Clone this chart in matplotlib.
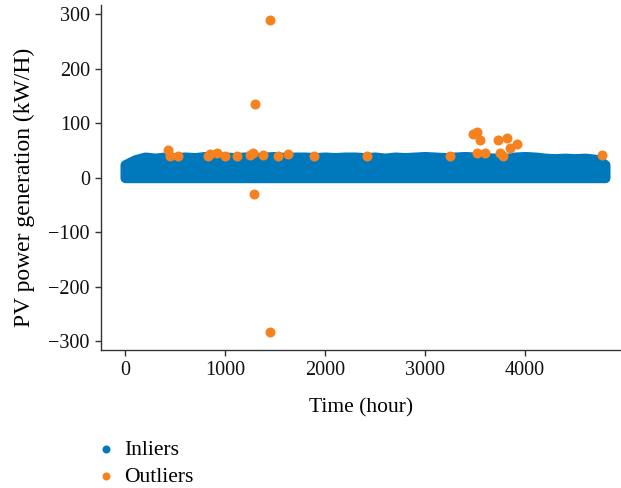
import matplotlib
matplotlib.use("Agg")
import matplotlib.pyplot as plt
import numpy as np

plt.rcParams["font.family"] = ["Liberation Serif", "DejaVu Serif"]
plt.rcParams["font.size"] = 14.5

# Inlier band: sampled hours with the upper envelope of generation (kW/H)
inlier_hours = [0, 100, 200, 300, 400, 500, 600, 700, 800, 900, 1000, 1100,
                1200, 1300, 1400, 1500, 1600, 1700, 1800, 1900, 2000, 2100,
                2200, 2300, 2400, 2500, 2600, 2700, 2800, 2900, 3000, 3100,
                3200, 3300, 3400, 3500, 3600, 3700, 3800, 3900, 4000, 4100,
                4200, 4300, 4400, 4500, 4600, 4700, 4750, 4800]
inlier_high = [24, 33, 38, 36, 38, 37, 38, 37, 39, 38, 38, 37,
               38, 37, 38, 39, 37, 38, 38, 37, 38, 37,
               38, 38, 37, 38, 36, 38, 37, 38, 39, 38,
               37, 38, 39, 38, 37, 36, 35, 38, 39, 38,
               36, 35, 36, 35, 36, 34, 30, 24]
inlier_low = [0] * len(inlier_hours)

# Outlier points
outlier_hours = [430, 450, 530, 830, 850, 920, 1000, 1120, 1250, 1280,
                 1290, 1300, 1380, 1450, 1450, 1530, 1630, 1890, 2420, 3250,
                 3480, 3520, 3520, 3550, 3600, 3730, 3750, 3780, 3820, 3850,
                 3920, 4770]
outlier_values = [51, 39, 40, 39, 44, 46, 39, 40, 42, 46,
                  -29, 136, 42, 290, -283, 40, 44, 40, 40, 40,
                  81, 84, 46, 70, 46, 70, 46, 39, 73, 55,
                  61, 42]

blue = "#0079bc"
orange = "#f5821f"

fig = plt.figure(figsize=(6.21, 4.88), dpi=100)
ax = fig.add_axes([0.1626, 0.2828, 0.8374, 0.7072])

# dense hourly points: filled region outlined by a thick round-joined edge,
# which gives the marker-radius overhang around the band
band = ax.fill_between(inlier_hours, inlier_low, inlier_high, facecolor=blue,
                       edgecolor=blue, lw=7.2, zorder=2)
band.set_joinstyle("round")
band.set_capstyle("round")
ax.scatter([], [], s=52, color=blue, lw=0, label="Inliers")
ax.scatter(outlier_hours, outlier_values, s=52, color=orange, lw=0, zorder=3,
           label="Outliers")

ax.set_xlim(-240, 4960)
ax.set_ylim(-316, 317)
ax.set_xticks([0, 1000, 2000, 3000, 4000])
ax.set_yticks([-300, -200, -100, 0, 100, 200, 300])
ax.set_yticklabels(["\u2212300", "\u2212200", "\u2212100", "0", "100", "200", "300"])

for side in ("top", "right"):
    ax.spines[side].set_visible(False)
for side in ("left", "bottom"):
    ax.spines[side].set_color("#333333")
    ax.spines[side].set_linewidth(1.0)
ax.tick_params(length=4, width=1, color="#333333", labelcolor="#111111", pad=4)

ax.set_xlabel("Time (hour)", fontsize=15.5, labelpad=13)
ax.set_ylabel("PV power generation (kW/H)", fontsize=17)
ax.yaxis.set_label_coords(-0.127, 0.472)

fig.legend(loc="upper left", bbox_to_anchor=(0.139, 0.116), frameon=False,
           handletextpad=0.35, labelspacing=0.3, markerscale=0.8,
           handlelength=1.0, borderaxespad=0, fontsize=15.5)

fig.savefig("out.png", dpi=100)
